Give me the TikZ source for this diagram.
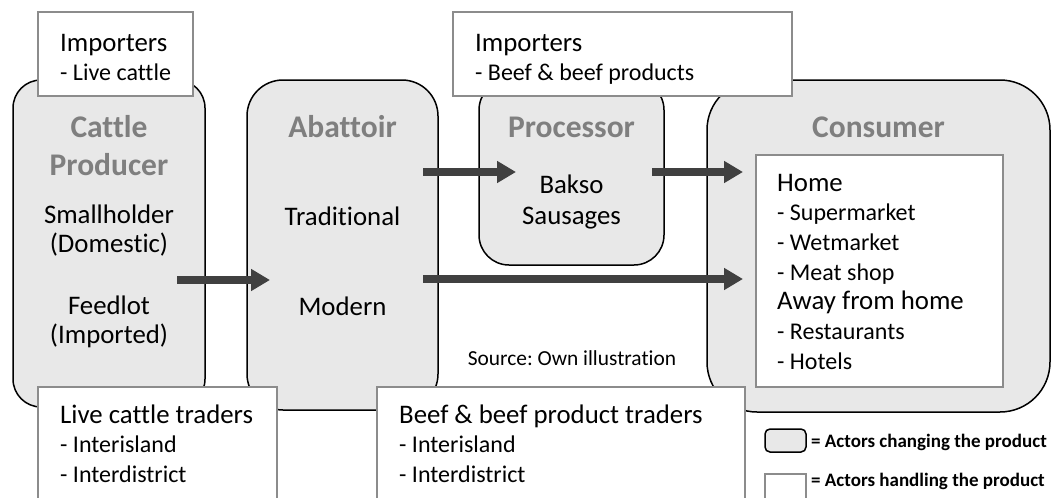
\documentclass[tikz,border=0pt]{standalone}
\usepackage{fontspec}
\setmainfont{Carlito}[Ligatures={NoCommon}]
\usetikzlibrary{arrows.meta}
\definecolor{boxgray}{RGB}{232,232,232}
\definecolor{titlegray}{RGB}{127,127,127}
\definecolor{bordergray}{RGB}{140,140,140}
\definecolor{arrowgray}{RGB}{64,64,64}
\newcommand\myBody{\fontsize{26.8}{29.5}\selectfont}
\newcommand\myList{\fontsize{24}{29.5}\selectfont}
\newcommand\myTitle{\fontsize{31.5}{38}\selectfont\bfseries}
\newcommand\mySrc{\fontsize{21.4}{25}\selectfont}
\newcommand\myLeg{\fontsize{19}{22}\selectfont\bfseries}
\frenchspacing
\tikzset{
  changebox/.style={draw=black, line width=1.5pt, fill=boxgray, rounded corners=#1, inner sep=0pt},
  handlebox/.style={draw=bordergray, line width=2pt, fill=white, inner sep=0pt},
  flowarrow/.style={draw=arrowgray, line width=8pt, -{Triangle[length=19pt,width=21pt]}},
  titletext/.style={anchor=base, font=\myTitle, text=titlegray, inner sep=0pt},
  bodytext/.style={anchor=base, font=\myBody, inner sep=0pt},
  lefttext/.style={anchor=base west, font=\myBody, inner sep=0pt},
  listtext/.style={anchor=base west, font=\myList, inner sep=0pt},
}
\begin{document}
\begin{tikzpicture}[x=1pt,y=-1pt]
\useasboundingbox (0,0) rectangle (1053,498);
\clip (0,0) rectangle (1053,498);
% actors changing the product
\node[changebox=28pt, minimum width=192pt, minimum height=327pt] (cattle) at (109,243.5) {};
\node[changebox=36pt, minimum width=191pt, minimum height=330pt] (abattoir) at (342.5,245) {};
\node[changebox=30pt, minimum width=185pt, minimum height=185pt] (processor) at (571.5,172.5) {};
\node[changebox=50pt, minimum width=343pt, minimum height=332pt] (consumer) at (878.5,246) {};
% flows
\coordinate (a1s) at (177,280);
\coordinate (a1e) at (270,280);
\coordinate (a2s) at (423,172);
\coordinate (a2e) at (516,172);
\coordinate (a3s) at (652,172);
\coordinate (a3e) at (743,172);
\coordinate (a4s) at (423,279);
\coordinate (a4e) at (743,279);
\draw[flowarrow] (a1s) -- (a1e);
\draw[flowarrow] (a2s) -- (a2e);
\draw[flowarrow] (a3s) -- (a3e);
\draw[flowarrow] (a4s) -- (a4e);
% actors handling the product
\node[handlebox, minimum width=155pt, minimum height=84pt] (imp1) at (115.5,54) {};
\node[handlebox, minimum width=339pt, minimum height=84pt] (imp2) at (622.5,54) {};
\node[handlebox, minimum width=239pt, minimum height=140pt] (lct) at (157.5,457) {};
\node[handlebox, minimum width=368pt, minimum height=140pt] (bt) at (561,457) {};
\node[handlebox, minimum width=247pt, minimum height=232pt] (home) at (879.5,271) {};
% texts
\node[lefttext] (imp1a) at (60,51) {Importers};
\node[listtext] (imp1b) at (60,80) {- Live cattle};
\node[lefttext] (imp2a) at (475,51) {Importers};
\node[listtext] (imp2b) at (475,80) {- Beef \& beef products};
\node[titletext] (t1a) at (109,137) {Cattle};
\node[titletext] (t1b) at (109,175) {Producer};
\node[bodytext] (c1) at (109,223) {Smallholder};
\node[bodytext] (c2) at (109,252.5) {(Domestic)};
\node[bodytext] (c3) at (109,314) {Feedlot};
\node[bodytext] (c4) at (109,343) {(Imported)};
\node[titletext] (t2) at (342.5,137) {Abattoir};
\node[bodytext] (ab1) at (342.5,225) {Traditional};
\node[bodytext] (ab2) at (342.5,315) {Modern};
\node[titletext] (t3) at (571.5,137) {Processor};
\node[bodytext] (p1) at (571.5,193) {Bakso};
\node[bodytext] (p2) at (571.5,224) {Sausages};
\node[titletext] (t4) at (878.5,137) {Consumer};
\node[lefttext] (h1) at (777,191) {Home};
\node[listtext] (h2) at (777,220.7) {- Supermarket};
\node[listtext] (h3) at (777,250.4) {- Wetmarket};
\node[listtext] (h4) at (777,280.1) {- Meat shop};
\node[lefttext] (h5) at (777,309.8) {Away from home};
\node[listtext] (h6) at (777,339.5) {- Restaurants};
\node[listtext] (h7) at (777,369.2) {- Hotels};
\node[lefttext] (l1) at (60,423) {Live cattle traders};
\node[listtext] (l2) at (60,452.5) {- Interisland};
\node[listtext] (l3) at (60,482) {- Interdistrict};
\node[lefttext] (b1) at (399,423) {Beef \& beef product traders};
\node[listtext] (b2) at (399,452.5) {- Interisland};
\node[listtext] (b3) at (399,482) {- Interdistrict};
\node[anchor=base, font=\mySrc, inner sep=0pt] (src) at (572,365.5) {Source: Own illustration};
% legend
\node[changebox=5pt, minimum width=41pt, minimum height=23pt] (leg1) at (785.5,440.5) {};
\node[handlebox, minimum width=41pt, minimum height=26pt] (leg2) at (785.5,487) {};
\node[anchor=base west, font=\myLeg, inner sep=0pt] (leg1t) at (811,447) {= Actors changing the product};
\node[anchor=base west, font=\myLeg, inner sep=0pt] (leg2t) at (811,486) {= Actors handling the product};
\end{tikzpicture}
\end{document}
